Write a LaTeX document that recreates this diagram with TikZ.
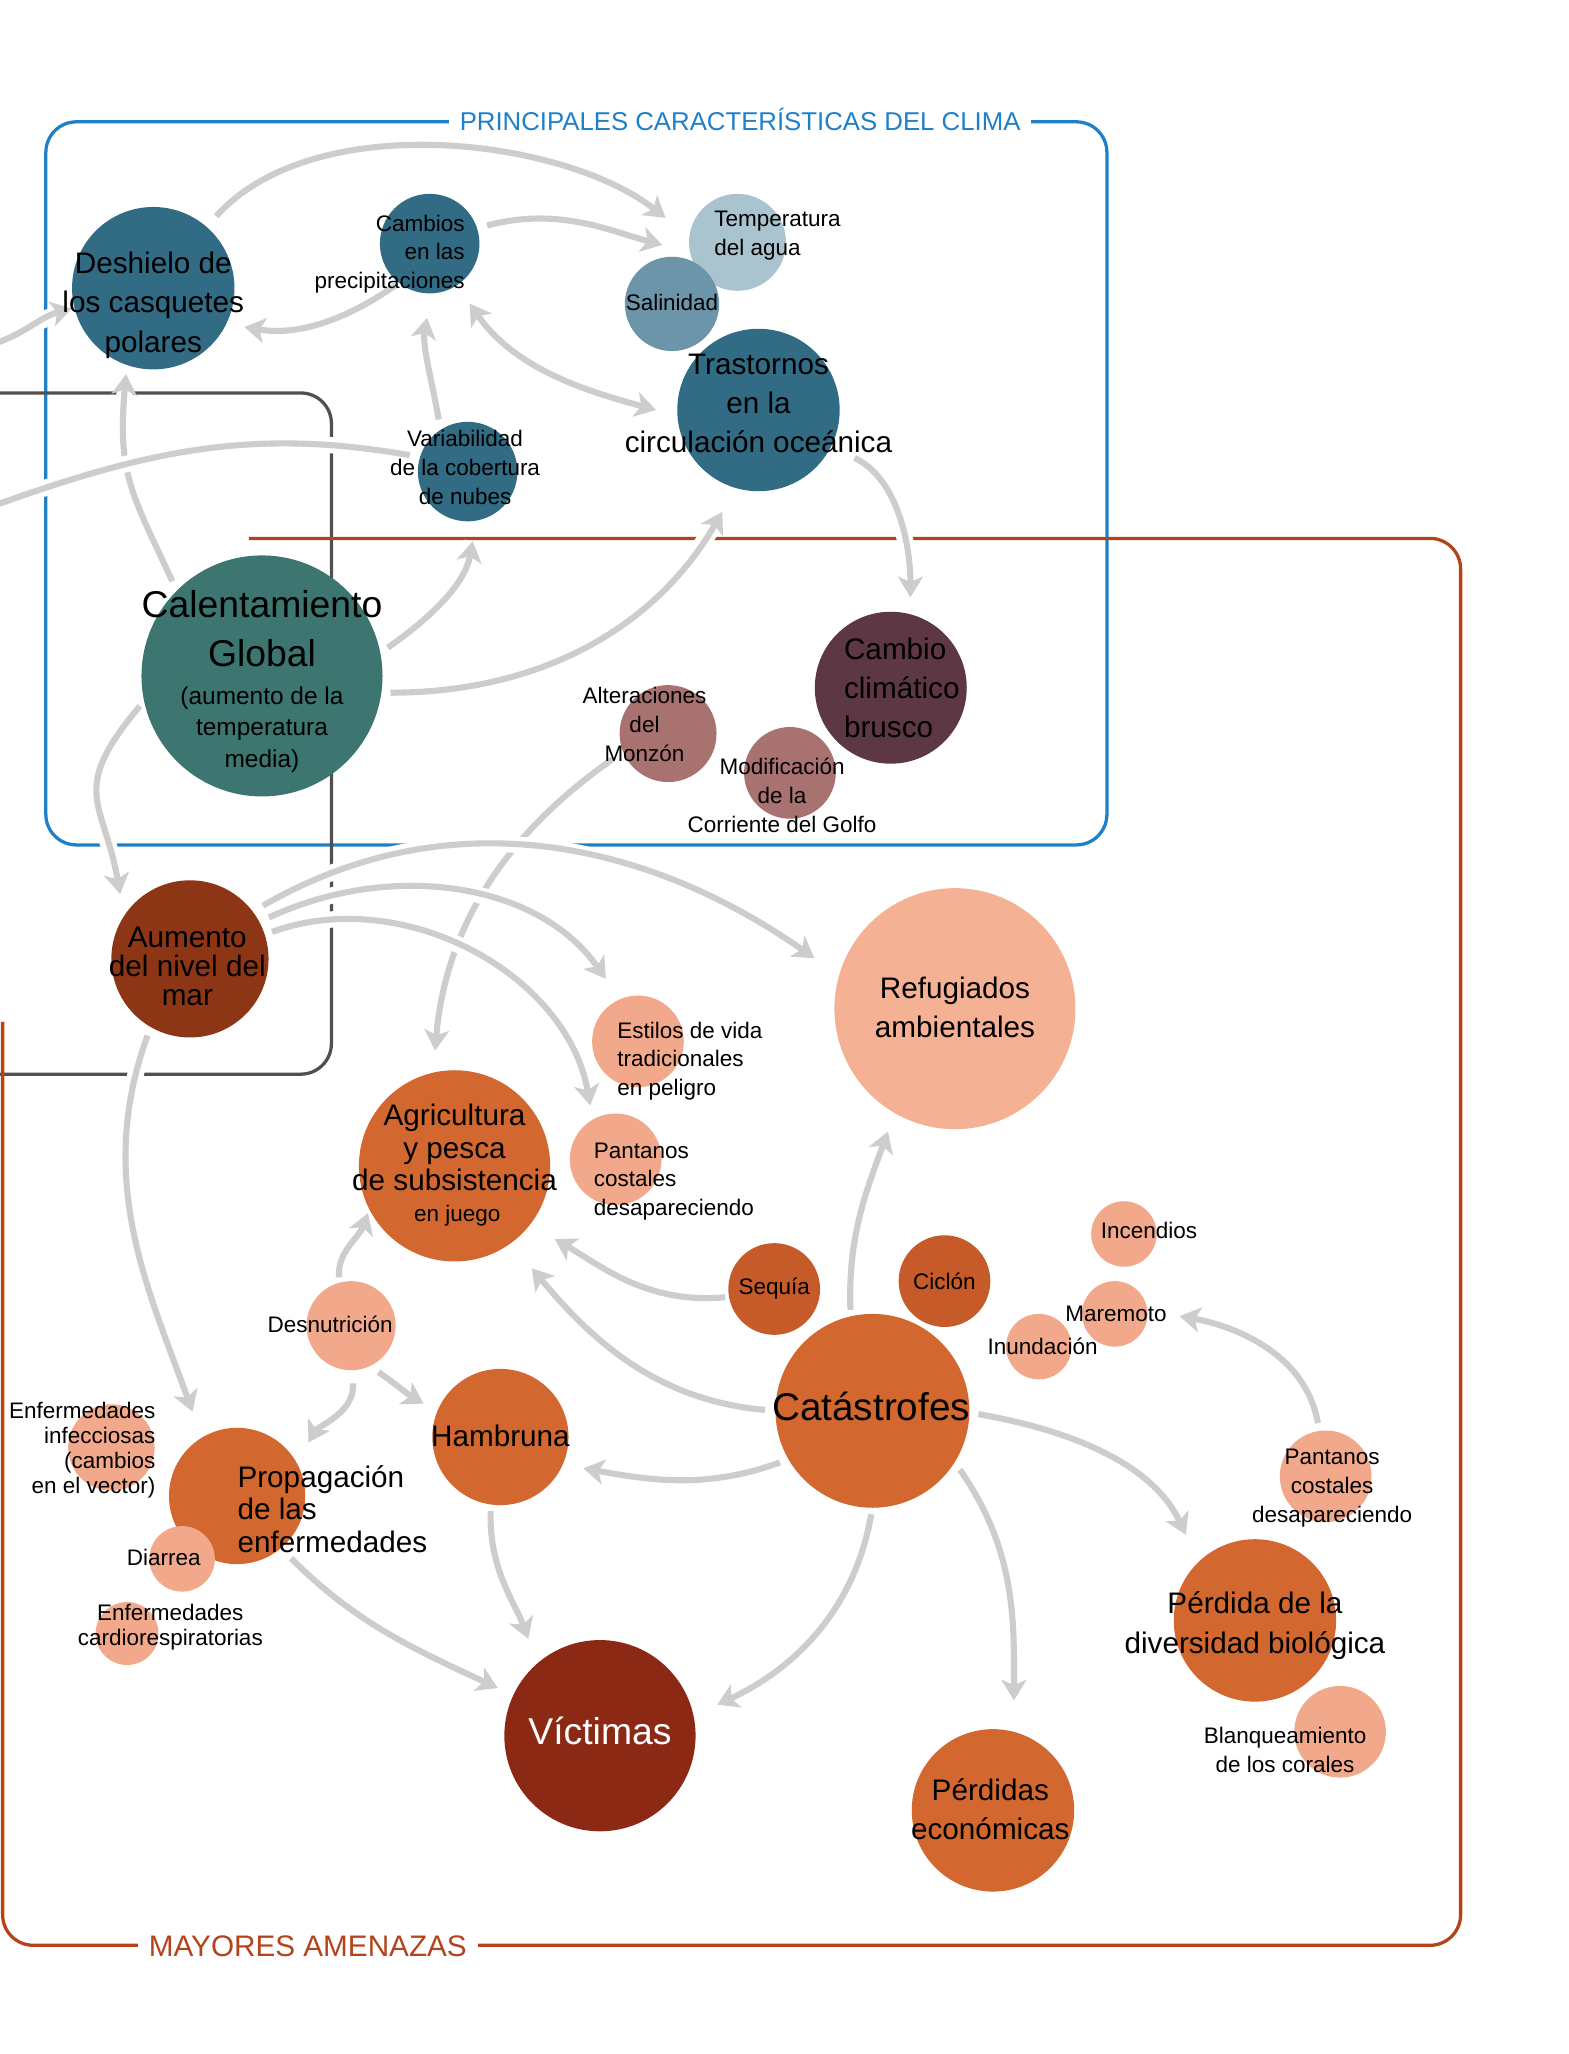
\documentclass[tikz,border=0pt]{standalone}
\usepackage{fontspec}
\setmainfont{Liberation Sans}
\usetikzlibrary{arrows.meta}
\definecolor{cBlue}{HTML}{326B84}
\definecolor{cBlueLt}{HTML}{A9C4CF}
\definecolor{cBlueMid}{HTML}{6C95A9}
\definecolor{cTeal}{HTML}{3D7571}
\definecolor{cMauve}{HTML}{A87270}
\definecolor{cPlum}{HTML}{5E3745}
\definecolor{cRust}{HTML}{8C3616}
\definecolor{cOrange}{HTML}{D26830}
\definecolor{cOrangeDk}{HTML}{C65A28}
\definecolor{cSalmon}{HTML}{F2A98B}
\definecolor{cSalmonLt}{HTML}{F4B194}
\definecolor{cVRed}{HTML}{8C2915}
\definecolor{cArrow}{HTML}{CDCDCD}
\definecolor{frBlue}{HTML}{1E80C8}
\definecolor{frRed}{HTML}{B4431C}
\definecolor{frDark}{HTML}{505050}
\newcommand\fntXL{\fontsize{17.1}{22.2}\selectfont}
\newcommand\fntL{\fontsize{13.6}{18}\selectfont}
\newcommand\fntM{\fontsize{11.2}{14.4}\selectfont}
\newcommand\fntS{\fontsize{10.3}{13.2}\selectfont}
\pgfdeclarelayer{frames}
\pgfdeclarelayer{arrows}
\pgfsetlayers{frames,arrows,main}
\begin{document}
\begin{tikzpicture}[x=0.6pt,y=0.6pt,
  bub/.style={circle,inner sep=0pt,outer sep=0pt,minimum size=#1*1.2pt},
  txt/.style={inner sep=0pt,align=center,text=black},
  arr/.style={draw=cArrow,line width=2.8pt,-{Stealth[length=9.5pt,width=11.5pt,inset=2.5pt]},
    preaction={draw=white,line width=7.5pt,arrows=-}},
  arrb/.style={draw=cArrow,line width=2.8pt,{Stealth[length=9.5pt,width=11.5pt,inset=2.5pt]}-{Stealth[length=9.5pt,width=11.5pt,inset=2.5pt]},
    preaction={draw=white,line width=7.5pt,arrows=-}},
  lin/.style={draw=cArrow,line width=2.8pt,preaction={draw=white,line width=7.5pt}},
  gs/.style={shorten <=#1*0.6pt},
  ge/.style={shorten >=#1*0.6pt},
  frame/.style={line width=1.5pt,rounded corners=14pt},
  ttl/.style={fill=white,inner xsep=5pt,inner ysep=2pt}]
\useasboundingbox (0,0) rectangle (1197,-1568);
\clip (0,0) rectangle (1197,-1568);

% circles
\node[bub=62,fill=cBlue] (desh) at (117,-220) {};
\node[bub=38,fill=cBlue] (camb) at (328,-186) {};
\node[bub=37,fill=cBlueLt] (temp) at (563,-185) {};
\node[bub=36,fill=cBlueMid] (sal) at (513,-232) {};
\node[bub=62,fill=cBlue] (tras) at (579,-313) {};
\node[bub=38,fill=cBlue] (vari) at (357,-360) {};
\node[bub=92,fill=cTeal] (cal) at (200,-516) {};
\node[bub=37,fill=cMauve] (monz) at (510,-560) {};
\node[bub=35,fill=cMauve] (golf) at (603,-590) {};
\node[bub=58,fill=cPlum] (brusco) at (680,-525) {};
\node[bub=60,fill=cRust] (aum) at (145,-732) {};
\node[bub=92,fill=cSalmonLt] (refu) at (729,-770) {};
\node[bub=35,fill=cSalmon] (estil) at (487,-795) {};
\node[bub=73,fill=cOrange] (agri) at (347,-890) {};
\node[bub=35,fill=cSalmon] (pant1) at (470,-885) {};
\node[bub=34,fill=cSalmon] (desn) at (268,-1012) {};
\node[bub=35,fill=cOrangeDk] (seq) at (591,-984) {};
\node[bub=35,fill=cOrangeDk] (cicl) at (721,-978) {};
\node[bub=25,fill=cSalmon] (incen) at (858,-942) {};
\node[bub=25,fill=cSalmon] (marem) at (851,-1003) {};
\node[bub=25,fill=cSalmon] (inund) at (793,-1028) {};
\node[bub=74,fill=cOrange] (cat) at (666,-1077) {};
\node[bub=52,fill=cOrange] (hamb) at (382,-1097) {};
\node[bub=33,fill=cSalmon] (infec) at (85,-1105) {};
\node[bub=52,fill=cOrange] (prop) at (181,-1142) {};
\node[bub=25,fill=cSalmon] (diarr) at (139,-1190) {};
\node[bub=24,fill=cSalmon] (cardio) at (97,-1247) {};
\node[bub=73,fill=cVRed] (vict) at (458,-1325) {};
\node[bub=62,fill=cOrange] (perd) at (758,-1382) {};
\node[bub=62,fill=cOrange] (biol) at (958,-1237) {};
\node[bub=35,fill=cSalmon] (pant2) at (1012,-1127) {};
\node[bub=35,fill=cSalmon] (blanq) at (1023,-1322) {};

% texts
\node[txt,font=\fntL] (deshT) at (117,-233) {Deshielo de\\los casquetes\\polares};
\node[txt,font=\fntS,align=right,anchor=east] (cambT) at (355,-194) {Cambios\\en las\\precipitaciones};
\node[txt,font=\fntS,align=left,anchor=west] (tempT) at (545,-180) {Temperatura\\del agua};
\node[txt,font=\fntS] (salT) at (513,-231) {Salinidad};
\node[txt,font=\fntL] (trasT) at (579,-308) {Trastornos\\en la\\circulación oceánica};
\node[txt,font=\fntS] (variT) at (355,-357) {Variabilidad\\de la cobertura\\de nubes};
\node[txt,font=\fntXL] (calT) at (200,-480) {Calentamiento\\Global};
\node[txt,font=\fntM] (calS) at (200,-557) {(aumento de la\\temperatura\\media)};
\node[txt,font=\fntS] (monzT) at (492,-553) {Alteraciones\\del\\Monzón};
\node[txt,font=\fntS] (golfT) at (597,-607) {Modificación\\de la\\Corriente del Golfo};
\node[txt,font=\fntL,align=left,anchor=west] (bruscoT) at (644,-525) {Cambio\\climático\\brusco};
\node[txt,font=\fontsize{13.6}{13.2}\selectfont] (aumT) at (143,-738) {Aumento\\del nivel del\\mar};
\node[txt,font=\fntL] (refuT) at (729,-769) {Refugiados\\ambientales};
\node[txt,font=\fntS,align=left,anchor=west] (estilT) at (471,-810) {Estilos de vida\\tradicionales\\en peligro};
\node[txt,font=\fontsize{13.6}{15}\selectfont] (agriT) at (347,-876) {Agricultura\\y pesca\\de subsistencia};
\node[txt,font=\fntS] (agriS) at (349,-928) {en juego};
\node[txt,font=\fntS,align=left,anchor=west] (pant1T) at (453,-902) {Pantanos\\costales\\desapareciendo};
\node[txt,font=\fntS] (desnT) at (252,-1011) {Desnutrición};
\node[txt,font=\fntS] (seqT) at (591,-984) {Sequía};
\node[txt,font=\fntS] (ciclT) at (721,-978) {Ciclón};
\node[txt,font=\fntS,anchor=west] (incenT) at (840,-939) {Incendios};
\node[txt,font=\fntS] (maremT) at (852,-1003) {Maremoto};
\node[txt,font=\fntS] (inundT) at (796,-1028) {Inundación};
\node[txt,font=\fontsize{17.7}{22}\selectfont] (catT) at (665,-1074) {Catástrofes};
\node[txt,font=\fntL] (hambT) at (382,-1096) {Hambruna};
\node[txt,font=\fontsize{10.3}{11.4}\selectfont,align=right,anchor=east] (infecT) at (119,-1107) {Enfermedades\\infecciosas\\(cambios\\en el vector)};
\node[txt,font=\fontsize{13.6}{15}\selectfont,align=left,anchor=west] (propT) at (181,-1152) {Propagación\\de las\\enfermedades};
\node[txt,font=\fntS] (diarrT) at (125,-1189) {Diarrea};
\node[txt,font=\fontsize{10.3}{11.4}\selectfont] (cardioT) at (130,-1242) {Enfermedades\\cardiorespiratorias};
\node[txt,font=\fntXL,text=white] (victT) at (458,-1321) {Víctimas};
\node[txt,font=\fntL] (perdT) at (756,-1381) {Pérdidas\\económicas};
\node[txt,font=\fontsize{13.6}{18.6}\selectfont] (biolT) at (958,-1241) {Pérdida de la\\diversidad biológica};
\node[txt,font=\fntS] (pant2T) at (1017,-1136) {Pantanos\\costales\\desapareciendo};
\node[txt,font=\fntS] (blanqT) at (981,-1336) {Blanqueamiento\\de los corales};

% titles
\node[ttl,text=frBlue,font=\fontsize{11.8}{14}\selectfont] (tClima) at (565,-91) {PRINCIPALES CARACTERÍSTICAS DEL CLIMA};
\node[ttl,text=frRed,font=\fontsize{13.6}{16}\selectfont] (tAmen) at (235,-1486) {MAYORES AMENAZAS};

\coordinate (offA) at (-10,-264);
\coordinate (offB) at (-10,-388);

% frames
\begin{pgfonlayer}{frames}
\draw[frame,draw=frBlue] (565,-93) -- (845,-93) -- (845,-645) -- (35,-645) -- (35,-93) -- cycle;
\draw[frame,draw=frDark] (-10,-300) -- (253,-300) -- (253,-820) -- (-10,-820);
\draw[frame,draw=frRed] (190,-411) -- (1115,-411) -- (1115,-1485) -- (2,-1485) -- (2,-780);
\end{pgfonlayer}

% connectors
\begin{pgfonlayer}{arrows}
\draw[arr,gs=11,ge=23] (desh.49) to[out=48,in=142,looseness=0.85] (temp.173);
\draw[arr,gs=8,ge=22] (camb.18) to[out=15,in=165] (temp.192);
\draw[arr,gs=3,ge=14] (camb.232) to[out=215,in=-10] (desh.-26);
\draw[arr,gs=8,ge=19] (vari.123) to[out=100,in=-100] (camb.-88);
\draw[arrb,gs=17,ge=17] (camb.-57) to[out=-55,in=165] (tras.184);
\draw[arr,ge=2] (offA) to[out=15,in=195] (desh.194);
\draw[arr,gs=8,ge=7] (cal.135) to[out=115,in=-95,looseness=1.2] (desh.251);
\draw[lin,shorten >=4.8pt] (offB) to[out=20,in=170] (vari.163);
\draw[arr,gs=7,ge=16] (cal.11) to[out=35,in=-100] (vari.-80);
\draw[arr,gs=7,ge=21] (cal.-8) to[out=0,in=-120] (tras.-106);
\draw[arr,gs=20,ge=13] (tras.-27) to[out=-25,in=90] (brusco.75);
\draw[arr,gs=5,ge=17] (cal.192) to[out=230,in=100,looseness=1.4] (aum.147);
\draw[arr,gs=10,ge=17] (monz.202) to[out=215,in=85] (agri.103);
\draw[arr,gs=9,ge=23] (aum.37) to[out=30,in=145] (refu.164);
\draw[arr,gs=8,ge=19] (aum.28) to[out=25,in=125] (estil.113);
\draw[arr,gs=6,ge=11] (aum.18) to[out=20,in=100] (pant1.120);
\draw[arr,gs=7,ge=21] (aum.240) to[out=250,in=110] (prop.121);
\draw[arr,gs=4,ge=3] (desn.105) to[out=95,in=-110] (agri.207);
\draw[arr,gs=10,ge=18] (desn.-89) to[out=-85,in=60] (prop.29);
\draw[arr,gs=8,ge=12] (desn.-65) to[out=-35,in=150] (hamb.158);
\draw[arr,gs=3,ge=22] (seq.190) to[out=185,in=-30] (agri.-38);
\draw[arr,gs=8,ge=25] (cat.180) to[out=175,in=-50] (agri.-54);
\draw[arr,gs=5,ge=15] (cat.103) to[out=92,in=-110] (refu.-120);
\draw[arr,gs=7,ge=16] (cat.210) to[out=200,in=-10] (hamb.-24);
\draw[arr,gs=5,ge=20] (hamb.-98) to[out=-92,in=110] (vict.131);
\draw[arr,gs=11,ge=13] (prop.-50) to[out=-45,in=155] (vict.155);
\draw[arr,gs=5,ge=20] (cat.-90) to[out=-100,in=25] (vict.12);
\draw[arr,gs=7,ge=24] (cat.-32) to[out=-55,in=90] (perd.75);
\draw[arr,gs=7,ge=23] (cat.-1) to[out=-10,in=115] (biol.134);
\draw[arr,gs=6,ge=25] (pant2.98) to[out=100,in=-10] (marem.6);
\end{pgfonlayer}
\end{tikzpicture}
\end{document}
